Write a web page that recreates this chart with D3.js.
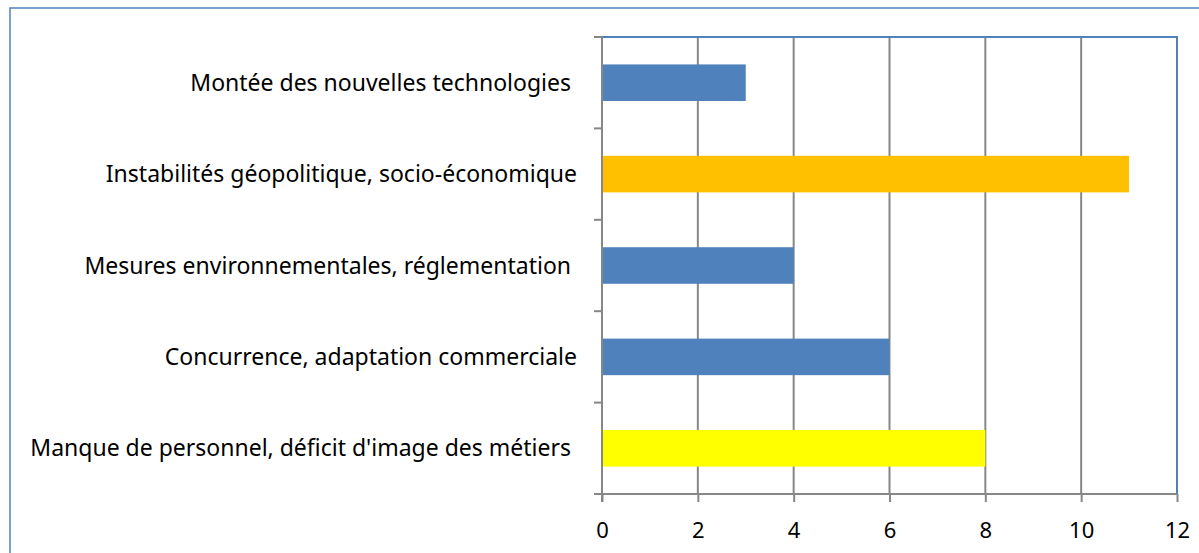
<!DOCTYPE html>
<html>
<head>
<meta charset="utf-8">
<script src="https://cdn.jsdelivr.net/npm/d3@7"></script>
<style>
  body { margin: 0; background: #fff; }
  svg text { font-family: "Noto Sans", "Open Sans", sans-serif; fill: #000; white-space: pre; }
</style>
</head>
<body>
<svg id="chart" width="1199" height="553"></svg>
<script>
// data, top to bottom as in the chart
const categories = [
  "Montée des nouvelles technologies ",
  "Instabilités géopolitique, socio-économique",
  "Mesures environnementales, réglementation ",
  "Concurrence, adaptation commerciale",
  "Manque de personnel, déficit d'image des métiers "
];
const values = [3, 11, 4, 6, 8];
const barColors = ["#4f81bd", "#ffc000", "#4f81bd", "#4f81bd", "#ffff00"];
const xTicks = [0, 2, 4, 6, 8, 10, 12];

const svg = d3.select("#chart");

// outer frame (runs off the right and bottom of the picture)
svg.append("rect")
  .attr("x", 10).attr("y", 8)
  .attr("width", 1200).attr("height", 560)
  .attr("fill", "none")
  .attr("stroke", "#4f81bd")
  .attr("stroke-width", 1.5);

const plotLeft = 602, plotRight = 1177, plotTop = 37, plotBottom = 494;

const x = d3.scaleLinear().domain([0, 12]).range([plotLeft, plotRight]);
const y = d3.scaleBand().domain(categories).range([plotTop, plotBottom])
  .paddingInner(0.6).paddingOuter(0.3);

// vertical gridlines
svg.append("g")
  .selectAll("line")
  .data(xTicks.slice(1, -1))
  .enter()
  .append("line")
  .attr("x1", d => x(d)).attr("x2", d => x(d))
  .attr("y1", plotTop).attr("y2", plotBottom)
  .attr("stroke", "#878787")
  .attr("stroke-width", 2);

// bars
svg.append("g")
  .selectAll("rect")
  .data(values)
  .enter()
  .append("rect")
  .attr("x", x(0))
  .attr("y", (d, i) => y(categories[i]))
  .attr("width", d => x(d) - x(0))
  .attr("height", y.bandwidth())
  .attr("fill", (d, i) => barColors[i]);

// plot area top and right edges in blue
svg.append("path")
  .attr("d", `M${plotLeft},${plotTop}H${plotRight}V${plotBottom}`)
  .attr("fill", "none")
  .attr("stroke", "#4f81bd")
  .attr("stroke-width", 2);

// x axis
const xAxis = svg.append("g")
  .attr("transform", `translate(0,${plotBottom})`)
  .call(d3.axisBottom(x).tickValues(xTicks).tickSize(8).tickPadding(20));
xAxis.select(".domain").attr("stroke", "#878787").attr("stroke-width", 2)
  .attr("d", `M${plotLeft - 8},0H${plotRight}`);
xAxis.selectAll(".tick line").attr("stroke", "#878787").attr("stroke-width", 2);
xAxis.selectAll(".tick text").style("font-size", "22px");

// y axis: ticks sit between the categories
const yTickPos = d3.range(categories.length + 1)
  .map(i => plotTop + i * (plotBottom - plotTop) / categories.length);
svg.append("line")
  .attr("x1", plotLeft).attr("x2", plotLeft)
  .attr("y1", plotTop).attr("y2", plotBottom + 8)
  .attr("stroke", "#878787").attr("stroke-width", 2);
svg.append("g")
  .selectAll("line")
  .data(yTickPos)
  .enter()
  .append("line")
  .attr("x1", plotLeft - 8).attr("x2", plotLeft)
  .attr("y1", d => d).attr("y2", d => d)
  .attr("stroke", "#878787").attr("stroke-width", 2);

// category labels
svg.append("g")
  .selectAll("text")
  .data(categories)
  .enter()
  .append("text")
  .attr("x", 577)
  .attr("y", d => y(d) + y.bandwidth() / 2)
  .attr("dy", "0.35em")
  .attr("text-anchor", "end")
  .style("font-size", "23px")
  .text(d => d);
</script>
</body>
</html>
